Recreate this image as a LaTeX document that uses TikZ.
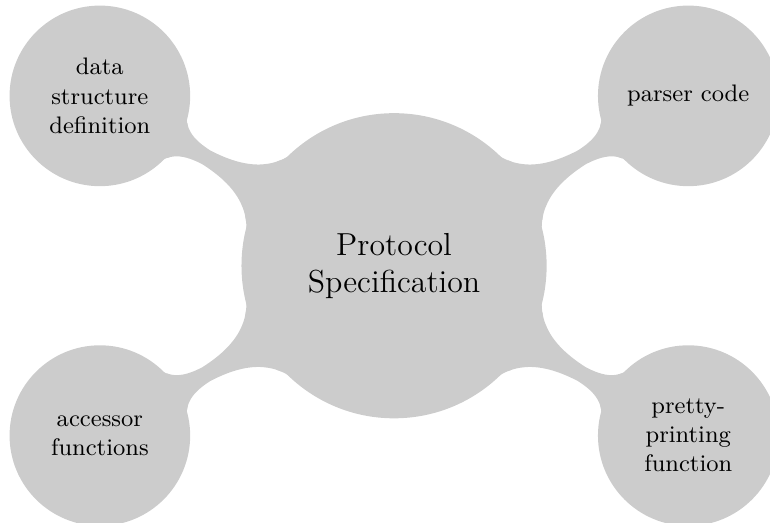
\documentclass[tikz,border=0pt]{standalone}
\usetikzlibrary{mindmap}
\tikzset{
  rootnode/.style={concept, fill=black!20, text=black, minimum size=4cm, text width=3.2cm, align=center, font=\large},
  leafnode/.style={concept, fill=black!20, text=black, minimum size=2.35cm, text width=2cm, align=center, font=\small},
  joinbar/.style={circle connection bar switch color=from (black!20) to (black!20)}
}
\begin{document}
\begin{tikzpicture}[mindmap, concept color=black!20]
    \useasboundingbox (-5.22,-3.40) rectangle (4.98,3.52);
    \path
    (0,0) node[rootnode] (proto) {Protocol\\Specification} % <<< centre
    (150:4.5) node[leafnode] (data) {data\\structure\\definition}
    (30:4.5) node[leafnode] (parser) {parser code}
    (210:4.5) node[leafnode] (accessor) {accessor\\functions}
    (330:4.5) node[leafnode] (pretty) {pretty-\\printing\\function};
    \path (proto) to[joinbar] (data);
    \path (proto) to[joinbar] (parser);
    \path (proto) to[joinbar] (accessor);
    \path (proto) to[joinbar] (pretty);
\end{tikzpicture}
\end{document}
